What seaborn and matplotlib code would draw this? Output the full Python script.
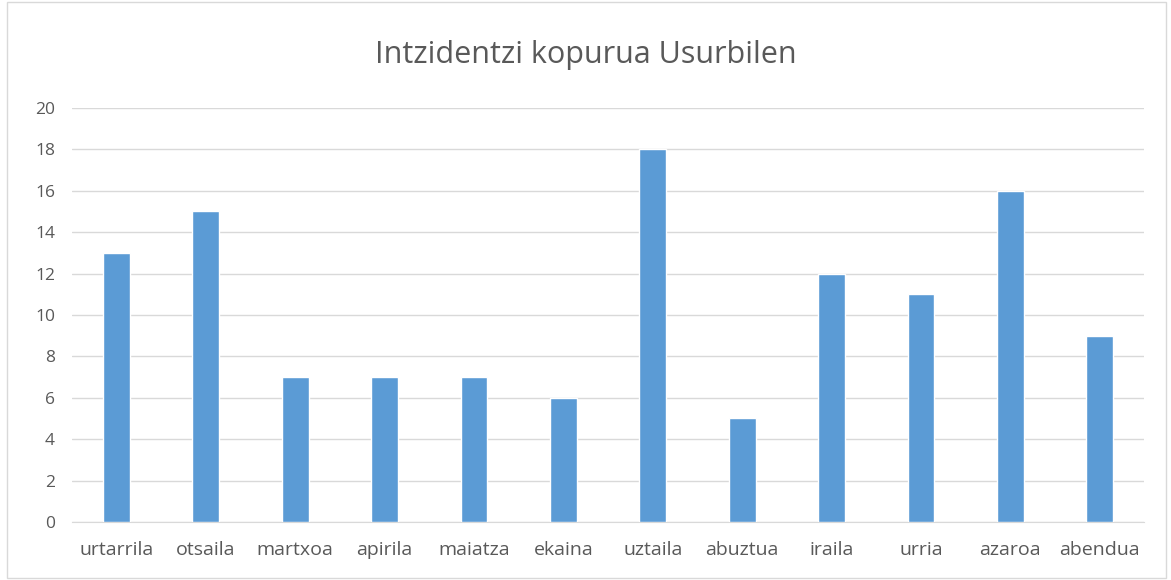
import matplotlib
matplotlib.use('Agg')
import matplotlib.pyplot as plt
import seaborn as sns
import pandas as pd

months = ['urtarrila', 'otsaila', 'martxoa', 'apirila', 'maiatza', 'ekaina',
          'uztaila', 'abuztua', 'iraila', 'urria', 'azaroa', 'abendua']
counts = [13, 15, 7, 7, 7, 6, 18, 5, 12, 11, 16, 9]

sns.set_style('white')
plt.rcParams['font.family'] = ['Open Sans', 'DejaVu Sans']

df = pd.DataFrame({'month': months, 'count': counts})

fig = plt.figure(figsize=(11.71, 5.80), dpi=100)
ax = fig.add_axes([0.0613, 0.1, 0.916, 0.7138])
sns.barplot(data=df, x='month', y='count', color='#5B9BD5', width=0.3,
            saturation=1, ax=ax, zorder=3)

ax.set_ylim(0, 20)
ax.set_yticks(range(0, 21, 2))
ax.yaxis.grid(True, color='#D9D9D9', linewidth=1, zorder=0)
for s in ['top', 'right', 'left']:
    ax.spines[s].set_visible(False)
ax.spines['bottom'].set_color('#D9D9D9')
ax.tick_params(axis='both', length=0, labelcolor='#595959')
ax.tick_params(axis='x', pad=14, labelsize=14)
ax.tick_params(axis='y', pad=12, labelsize=12.5)
ax.set_xlabel('')
ax.set_ylabel('')
fig.text(0.5, 0.905, 'Intzidentzi kopurua Usurbilen', ha='center', va='center',
         fontsize=22, color='#595959')

fig.patches.append(plt.Rectangle((0.006, 0.003), 0.99, 0.994, transform=fig.transFigure,
                                 fill=False, edgecolor='#D9D9D9', linewidth=1))

fig.savefig('out.png', dpi=100)
